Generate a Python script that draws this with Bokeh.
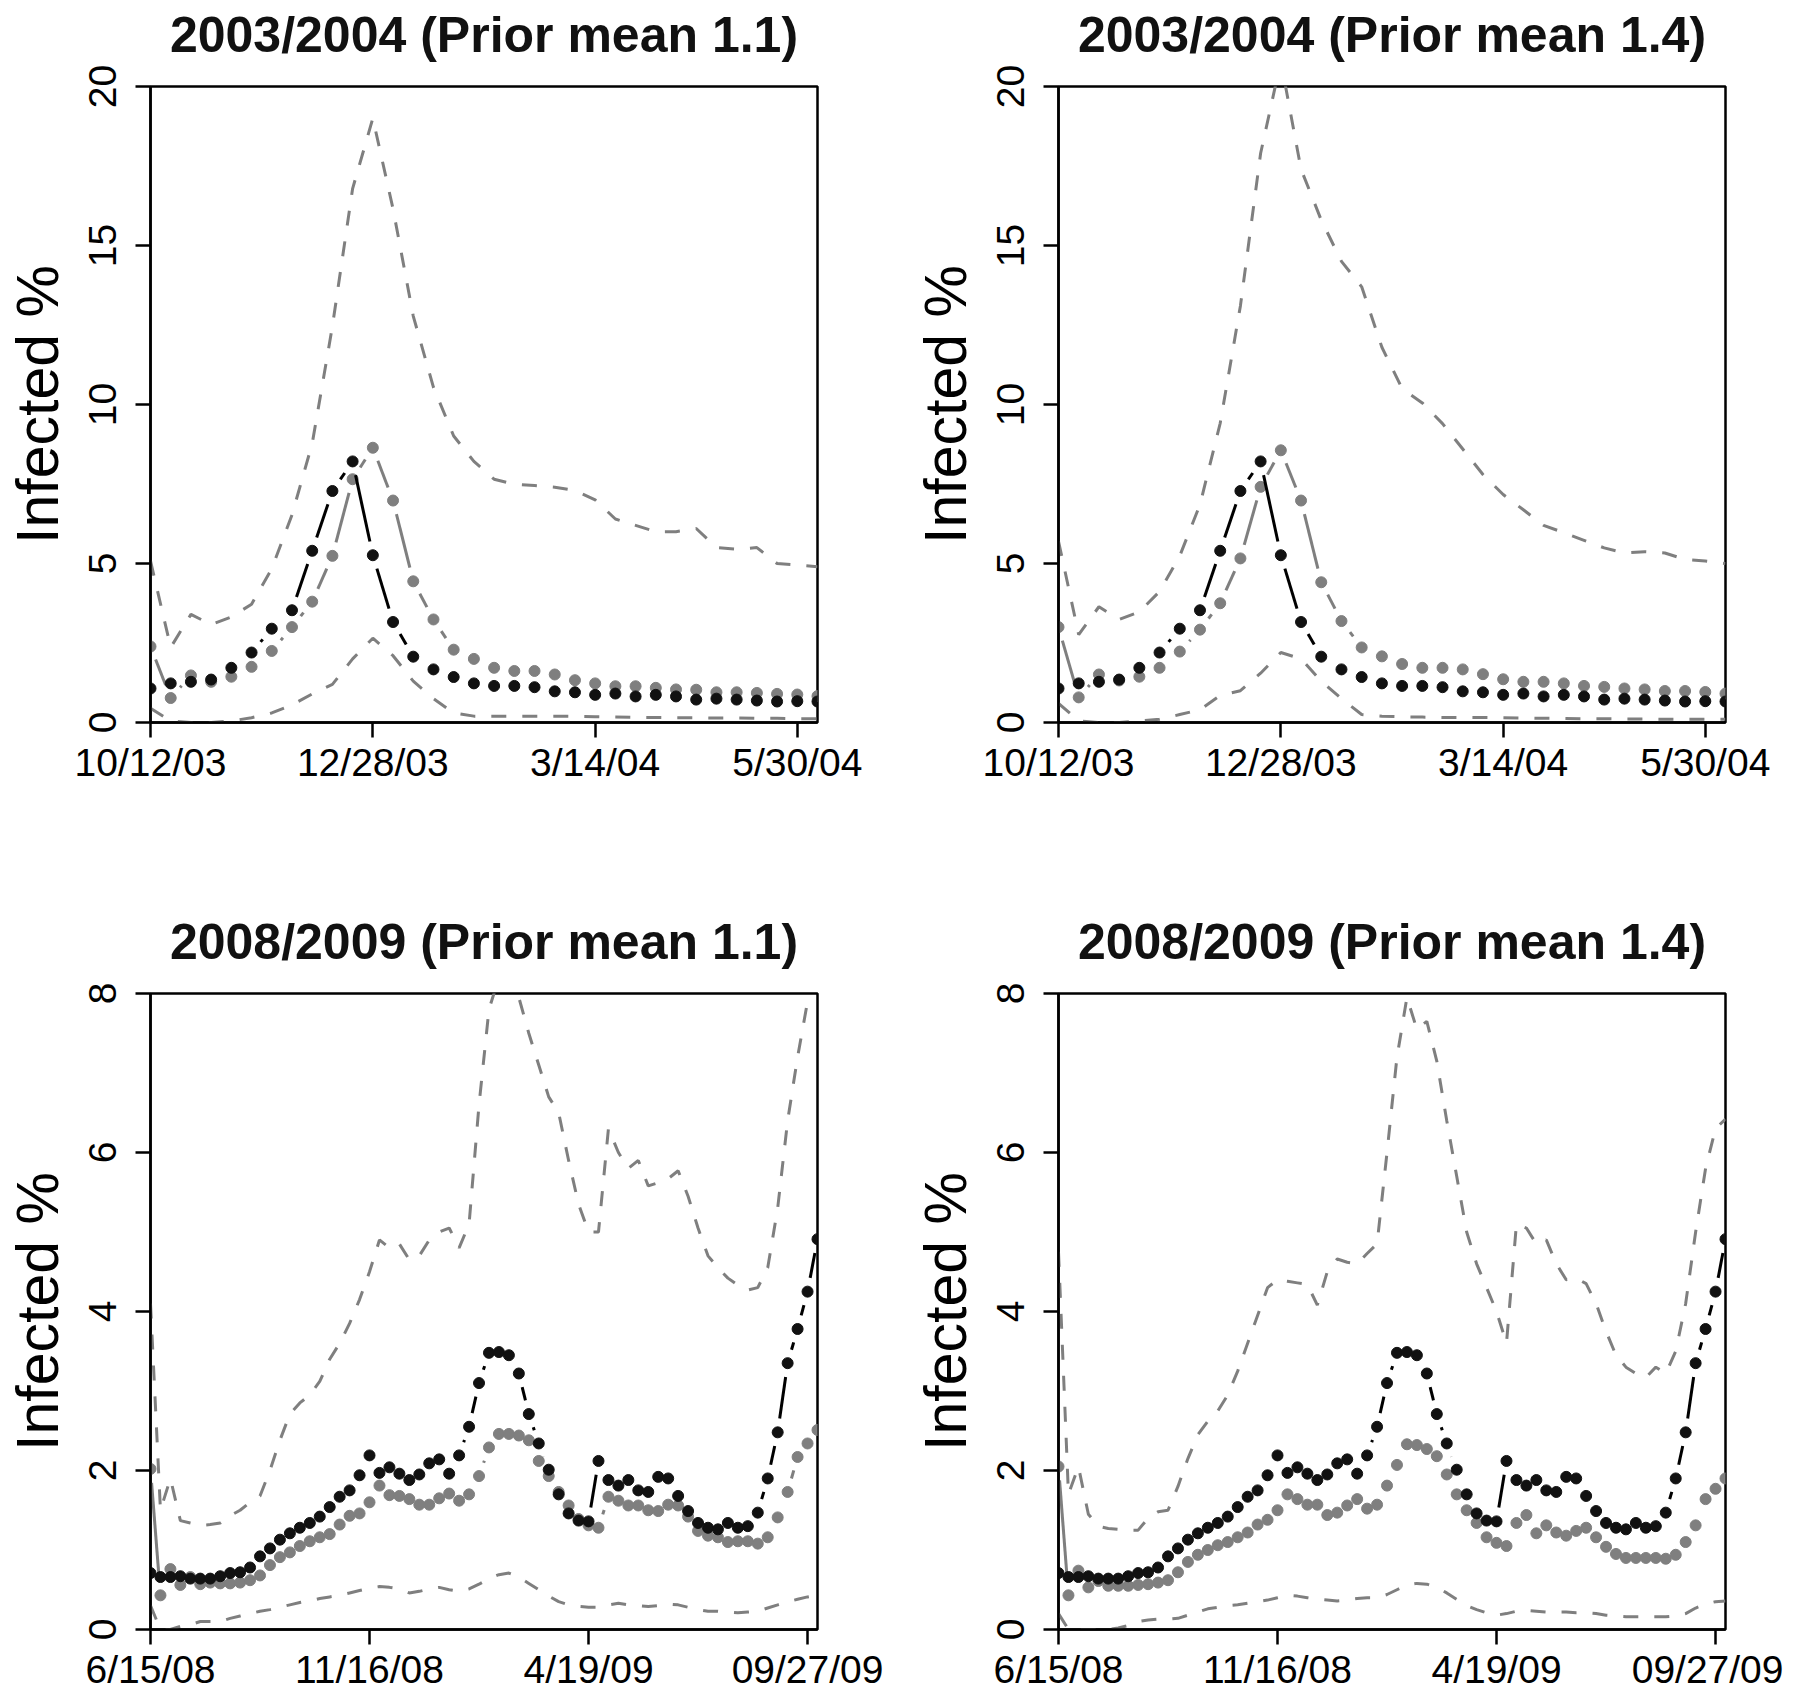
import math
from bokeh.plotting import figure
from bokeh.models import Range1d, FixedTicker, Title
from bokeh.layouts import row, column
from bokeh.embed import file_html
from bokeh.resources import INLINE

# ---------------- data ----------------
# week index (x position) of each weekly observation
weeks_0304 = list(range(34))
weeks_0809 = list(range(68))

xtick_pos_0304 = [0, 11, 22, 32]
xtick_lab_0304 = ["10/12/03", "12/28/03", "3/14/04", "5/30/04"]
xtick_pos_0809 = [0, 22, 44, 66]
xtick_lab_0809 = ["6/15/08", "11/16/08", "4/19/09", "09/27/09"]
yticks_0304 = [0, 5, 10, 15, 20]
yticks_0809 = [0, 2, 4, 6, 8]

# observed (black) series
obs_0304 = [1.07, 1.23, 1.28, 1.35, 1.72, 2.20, 2.95, 3.53, 5.40, 7.28, 8.21, 5.26, 3.16, 2.07, 1.67, 1.43, 1.23,
            1.15, 1.15, 1.11, 0.98, 0.95, 0.87, 0.91, 0.82, 0.87, 0.82, 0.72, 0.75, 0.72, 0.69, 0.66, 0.67, 0.66]
obs_0809 = [0.71, 0.66, 0.66, 0.67, 0.64, 0.64, 0.64, 0.67, 0.71, 0.72,
            0.78, 0.92, 1.02, 1.13, 1.21, 1.28, 1.34, 1.42, 1.54, 1.67,
            1.75, 1.94, 2.19, 1.97, 2.04, 1.96, 1.88, 1.95, 2.09, 2.14,
            1.96, 2.19, 2.55, 3.10, 3.48, 3.49, 3.45, 3.22, 2.71, 2.34,
            2.01, 1.70, 1.46, 1.37, 1.36, 2.12, 1.88, 1.81, 1.88, 1.75,
            1.73, 1.92, 1.90, 1.68, 1.49, 1.34, 1.28, 1.26, 1.34, 1.28,
            1.30, 1.47, 1.90, 2.48, 3.35, 3.78, 4.25, 4.91]

# 2003/2004, prior mean 1.1
est_11_0304 = [2.39, 0.77, 1.48, 1.28, 1.44, 1.75, 2.25, 3.00, 3.80, 5.24, 7.65, 8.64, 6.98, 4.44, 3.24, 2.29, 2.00,
               1.72, 1.62, 1.62, 1.51, 1.33, 1.23, 1.14, 1.14, 1.09, 1.04, 1.03, 0.95, 0.95, 0.93, 0.90, 0.88, 0.83]
up_11_0304 = [5.08, 2.36, 3.40, 3.08, 3.32, 3.72, 4.84, 6.53, 8.77, 12.46, 16.79, 19.0, 16.15, 12.78, 10.54, 9.01, 8.21,
              7.65, 7.49, 7.45, 7.40, 7.30, 7.00, 6.40, 6.20, 6.00, 6.00, 6.10, 5.50, 5.45, 5.50, 5.00, 4.95, 4.90]
lo_11_0304 = [0.45, 0.05, 0.0, 0.0, 0.05, 0.15, 0.30, 0.55, 0.90, 1.20, 2.00, 2.65, 2.10, 1.30, 0.75, 0.30, 0.20,
              0.20, 0.20, 0.20, 0.20, 0.19, 0.18, 0.17, 0.16, 0.16, 0.15, 0.15, 0.14, 0.14, 0.13, 0.13, 0.12, 0.12]

# 2003/2004, prior mean 1.4
est_14_0304 = [3.00, 0.79, 1.51, 1.32, 1.44, 1.72, 2.23, 2.92, 3.75, 5.16, 7.41, 8.56, 6.98, 4.41, 3.19, 2.36, 2.08,
               1.84, 1.72, 1.72, 1.67, 1.52, 1.36, 1.28, 1.28, 1.23, 1.15, 1.12, 1.07, 1.04, 0.99, 0.99, 0.96, 0.91]
up_14_0304 = [5.70, 2.76, 3.64, 3.24, 3.48, 4.12, 5.24, 6.85, 9.41, 13.1, 17.9, 20.8, 17.4, 15.8, 14.5, 13.7, 11.8,
              10.5, 10.05, 9.4, 8.6, 7.8, 7.17, 6.69, 6.2, 5.97, 5.73, 5.49, 5.33, 5.37, 5.33, 5.13, 5.08, 5.0]
lo_14_0304 = [0.60, 0.05, 0.0, 0.0, 0.05, 0.10, 0.25, 0.40, 0.85, 1.00, 1.55, 2.20, 2.00, 1.30, 0.75, 0.25, 0.20,
              0.18, 0.17, 0.16, 0.16, 0.16, 0.15, 0.14, 0.13, 0.13, 0.12, 0.12, 0.11, 0.11, 0.10, 0.10, 0.10, 0.10]

# 2008/2009, prior mean 1.1
est_11_0809 = [2.02, 0.43, 0.76, 0.56, 0.66, 0.57, 0.59, 0.58, 0.58, 0.59,
               0.62, 0.68, 0.81, 0.91, 0.97, 1.05, 1.11, 1.16, 1.20, 1.32,
               1.43, 1.46, 1.60, 1.81, 1.69, 1.68, 1.64, 1.57, 1.57, 1.65,
               1.71, 1.62, 1.70, 1.93, 2.29, 2.46, 2.46, 2.44, 2.38, 2.12,
               1.93, 1.73, 1.56, 1.39, 1.31, 1.28, 1.67, 1.62, 1.56, 1.56,
               1.50, 1.49, 1.57, 1.56, 1.42, 1.24, 1.18, 1.16, 1.10, 1.11,
               1.11, 1.08, 1.16, 1.41, 1.73, 2.17, 2.34, 2.51]
up_11_0809 = [4.10, 1.50, 1.90, 1.37, 1.34, 1.31, 1.32, 1.34, 1.43, 1.50,
              1.60, 1.68, 2.00, 2.38, 2.71, 2.85, 2.95, 3.12, 3.40, 3.60,
              3.85, 4.15, 4.50, 4.90, 4.80, 4.85, 4.65, 4.70, 4.90, 5.00,
              5.05, 4.80, 5.10, 6.60, 7.80, 8.20, 8.20, 7.95, 7.50, 7.10,
              6.70, 6.50, 5.90, 5.35, 5.00, 5.00, 6.30, 6.00, 5.80, 5.90,
              5.58, 5.62, 5.67, 5.77, 5.45, 5.05, 4.70, 4.55, 4.42, 4.33,
              4.27, 4.30, 4.55, 5.30, 6.40, 7.20, 7.90, 8.30]
lo_11_0809 = [0.30, 0.00, 0.00, 0.04, 0.06, 0.10, 0.10, 0.10, 0.14, 0.17,
              0.20, 0.23, 0.25, 0.28, 0.31, 0.34, 0.36, 0.39, 0.41, 0.43,
              0.46, 0.49, 0.52, 0.54, 0.53, 0.51, 0.46, 0.48, 0.51, 0.53,
              0.50, 0.48, 0.51, 0.57, 0.64, 0.69, 0.71, 0.66, 0.58, 0.50,
              0.42, 0.35, 0.31, 0.29, 0.28, 0.28, 0.31, 0.33, 0.31, 0.30,
              0.29, 0.30, 0.32, 0.31, 0.28, 0.25, 0.23, 0.23, 0.22, 0.21,
              0.22, 0.23, 0.27, 0.31, 0.35, 0.38, 0.41, 0.43]

# 2008/2009, prior mean 1.4
est_14_0809 = [2.05, 0.43, 0.74, 0.53, 0.61, 0.55, 0.55, 0.55, 0.56, 0.57,
               0.59, 0.62, 0.72, 0.85, 0.94, 1.00, 1.06, 1.10, 1.16, 1.22,
               1.32, 1.38, 1.50, 1.70, 1.64, 1.57, 1.57, 1.44, 1.47, 1.56,
               1.64, 1.52, 1.57, 1.81, 2.07, 2.33, 2.32, 2.27, 2.18, 1.95,
               1.70, 1.50, 1.34, 1.16, 1.09, 1.05, 1.34, 1.44, 1.21, 1.31,
               1.22, 1.18, 1.24, 1.28, 1.16, 1.04, 0.95, 0.90, 0.90, 0.90,
               0.90, 0.89, 0.94, 1.10, 1.31, 1.64, 1.77, 1.90]
up_14_0809 = [4.75, 1.70, 2.05, 1.45, 1.30, 1.27, 1.26, 1.25, 1.25, 1.40,
              1.48, 1.50, 1.80, 2.15, 2.45, 2.62, 2.75, 2.95, 3.25, 3.60,
              3.95, 4.30, 4.40, 4.38, 4.36, 4.34, 4.08, 4.50, 4.66, 4.62,
              4.60, 4.73, 4.85, 6.00, 7.20, 7.95, 7.55, 7.65, 7.15, 6.40,
              5.70, 5.00, 4.60, 4.30, 4.00, 3.60, 5.10, 5.05, 4.85, 4.90,
              4.60, 4.40, 4.42, 4.35, 4.10, 3.75, 3.45, 3.30, 3.22, 3.17,
              3.30, 3.22, 3.50, 4.10, 5.00, 5.80, 6.30, 6.42]
lo_14_0809 = [0.20, 0.00, 0.00, 0.00, 0.00, 0.00, 0.02, 0.05, 0.10, 0.12,
              0.13, 0.13, 0.14, 0.18, 0.22, 0.26, 0.28, 0.30, 0.31, 0.33,
              0.35, 0.37, 0.40, 0.43, 0.42, 0.40, 0.38, 0.37, 0.36, 0.37,
              0.39, 0.40, 0.40, 0.44, 0.50, 0.56, 0.58, 0.57, 0.53, 0.46,
              0.38, 0.30, 0.25, 0.21, 0.18, 0.20, 0.23, 0.24, 0.23, 0.22,
              0.22, 0.22, 0.21, 0.21, 0.20, 0.18, 0.17, 0.16, 0.16, 0.16,
              0.16, 0.16, 0.17, 0.20, 0.27, 0.32, 0.35, 0.36]

# ---------------- styling ----------------
FONT = "Liberation Sans"
GRAY = "#7f7f7f"
FRAME_W = 667
FRAME_H = 636
GAP_PX = 14          # gap left around each point by the joining lines


def gap_segments(xs, ys, sx, sy, gap):
    """Joining segments between consecutive points, shortened near each point."""
    x0, y0, x1, y1 = [], [], [], []
    for i in range(len(xs) - 1):
        dx, dy = xs[i + 1] - xs[i], ys[i + 1] - ys[i]
        L = math.hypot(dx * sx, dy * sy)
        if L <= 2 * gap:
            continue
        f = gap / L
        x0.append(xs[i] + dx * f)
        y0.append(ys[i] + dy * f)
        x1.append(xs[i + 1] - dx * f)
        y1.append(ys[i + 1] - dy * f)
    return dict(x0=x0, y0=y0, x1=x1, y1=y1)


def panel(title, weeks, obs, est, up, lo, ymax, yticks, xpos, xlab, left, right, top, bottom):
    p = figure(frame_width=FRAME_W, frame_height=FRAME_H,
               x_range=Range1d(weeks[0], weeks[-1]), y_range=Range1d(0, ymax),
               output_backend="svg", toolbar_location=None,
               min_border_left=left, min_border_right=right,
               min_border_top=top, min_border_bottom=bottom,
               background_fill_color="white", border_fill_color="white")

    # blank spacer panel between the frame and the title (lifts the title up)
    p.add_layout(Title(text=" ", text_font_size="10px", standoff=5), "above")

    p.title.text = title
    p.title.align = "center"
    p.title.vertical_align = "top"
    p.title.text_font = FONT
    p.title.text_font_style = "bold"
    p.title.text_font_size = "50px"
    p.title.text_color = "#111111"
    p.title.standoff = 8

    p.xgrid.visible = False
    p.ygrid.visible = False
    p.outline_line_color = "black"
    p.outline_line_width = 2.5
    p.outline_line_alpha = 1.0

    for ax in (p.xaxis[0], p.yaxis[0]):
        ax.axis_line_color = "black"
        ax.axis_line_width = 2.5
        ax.major_tick_line_color = "black"
        ax.major_tick_line_width = 2.5
        ax.major_tick_out = 15
        ax.major_tick_in = 0
        ax.minor_tick_line_color = None
        ax.major_label_text_font = FONT
        ax.major_label_text_font_size = "39px"
        ax.major_label_text_color = "black"

    p.xaxis.ticker = FixedTicker(ticks=xpos)
    p.xaxis.major_label_overrides = {k: v for k, v in zip(xpos, xlab)}
    p.xaxis.major_label_standoff = 3

    p.yaxis.ticker = FixedTicker(ticks=yticks)
    p.yaxis.major_label_orientation = "vertical"
    p.yaxis.major_label_standoff = 20
    p.yaxis.axis_label = "Infected %"
    p.yaxis.axis_label_text_font = FONT
    p.yaxis.axis_label_text_font_style = "normal"
    p.yaxis.axis_label_text_font_size = "59px"
    p.yaxis.axis_label_text_color = "black"
    p.yaxis.axis_label_standoff = 15

    # credible interval bounds
    p.line(weeks, up, line_color=GRAY, line_width=3, line_dash="15 16")
    p.line(weeks, lo, line_color=GRAY, line_width=3, line_dash="15 16")

    sx = FRAME_W / (weeks[-1] - weeks[0])
    sy = FRAME_H / ymax
    # model estimate (gray)
    p.segment(line_color=GRAY, line_width=3, **gap_segments(weeks, est, sx, sy, GAP_PX))
    p.scatter(weeks, est, size=11, fill_color=GRAY, line_color=GRAY, marker="circle")
    # observed (black)
    p.segment(line_color="black", line_width=3, **gap_segments(weeks, obs, sx, sy, GAP_PX))
    p.scatter(weeks, obs, size=11, fill_color="#111111", line_color="#111111", marker="circle")
    return p


p1 = panel("2003/2004 (Prior mean 1.1)", weeks_0304, obs_0304, est_11_0304, up_11_0304, lo_11_0304,
           20, yticks_0304, xtick_pos_0304, xtick_lab_0304, 150, 91, 86, 185)
p2 = panel("2003/2004 (Prior mean 1.4)", weeks_0304, obs_0304, est_14_0304, up_14_0304, lo_14_0304,
           20, yticks_0304, xtick_pos_0304, xtick_lab_0304, 150, 58, 86, 185)
p3 = panel("2008/2009 (Prior mean 1.1)", weeks_0809, obs_0809, est_11_0809, up_11_0809, lo_11_0809,
           8, yticks_0809, xtick_pos_0809, xtick_lab_0809, 150, 91, 86, 62)
p4 = panel("2008/2009 (Prior mean 1.4)", weeks_0809, obs_0809, est_14_0809, up_14_0809, lo_14_0809,
           8, yticks_0809, xtick_pos_0809, xtick_lab_0809, 150, 58, 86, 62)

layout = column(row(p1, p2), row(p3, p4))

open("out.html", "w").write(file_html(layout, INLINE))
